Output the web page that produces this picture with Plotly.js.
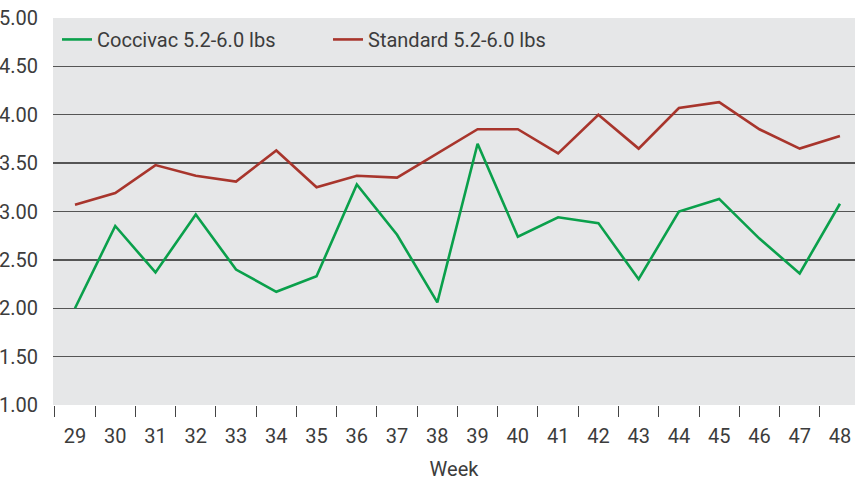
<!DOCTYPE html>
<html>
<head>
<meta charset="utf-8">
<script src="https://cdn.plot.ly/plotly-3.0.1.min.js"></script>
<style>
  html, body { margin: 0; padding: 0; background: #ffffff; }
  #chart { width: 855px; height: 483px; }
</style>
</head>
<body>
<div id="chart"></div>
<script>
const weeks = ["29","30","31","32","33","34","35","36","37","38","39","40","41","42","43","44","45","46","47","48"];
const coccivac = [2.00, 2.85, 2.37, 2.97, 2.40, 2.17, 2.33, 3.28, 2.76, 2.06, 3.70, 2.74, 2.94, 2.88, 2.30, 3.00, 3.13, 2.72, 2.36, 3.08];
const standard = [3.07, 3.19, 3.48, 3.37, 3.31, 3.63, 3.25, 3.37, 3.35, 3.60, 3.85, 3.85, 3.60, 4.00, 3.65, 4.07, 4.13, 3.85, 3.65, 3.78];
const yTicks = [1.0, 1.5, 2.0, 2.5, 3.0, 3.5, 4.0, 4.5, 5.0];
const yTickText = ["1.00", "1.50", "2.00", "2.50", "3.00", "3.50", "4.00", "4.50", "5.00"];
const seriesNames = ["Coccivac 5.2-6.0 lbs", "Standard 5.2-6.0 lbs"];

const FONT = "Roboto, 'DejaVu Sans', sans-serif";
const TEXT = "#3c3c3c";

const traces = [
  { x: weeks, y: coccivac, name: seriesNames[0], type: "scatter", mode: "lines",
    line: { color: "#0aa04b", width: 2.6 } },
  { x: weeks, y: standard, name: seriesNames[1], type: "scatter", mode: "lines",
    line: { color: "#a8352c", width: 2.6 } }
];

const layout = {
  width: 855, height: 483,
  margin: { l: 53, r: 0, t: 18, b: 78 },
  paper_bgcolor: "#ffffff",
  plot_bgcolor: "#e6e7e8",
  font: { family: FONT, color: TEXT, size: 20 },
  showlegend: true,
  legend: {
    orientation: "h", x: 0.005, y: 0.995, xanchor: "left", yanchor: "top",
    bgcolor: "rgba(0,0,0,0)", font: { family: FONT, size: 20, color: TEXT },
    itemwidth: 30, entrywidth: 226, tracegroupgap: 0
  },
  xaxis: {
    type: "category",
    range: [-0.546, 19.374],
    tickson: "boundaries",
    ticks: "outside", ticklen: 11, tickwidth: 1, tickcolor: "#444",
    showgrid: false, zeroline: false, showline: false,
    ticklabelstandoff: 17,
    tickfont: { family: FONT, size: 20, color: TEXT },
    title: { text: "Week", font: { family: FONT, size: 20, color: TEXT }, standoff: 14 }
  },
  yaxis: {
    range: [1, 5],
    tickvals: yTicks, ticktext: yTickText,
    showgrid: true, gridcolor: "#555555", gridwidth: 1.3,
    zeroline: false, showline: false, ticks: "",
    ticklabelstandoff: 14,
    tickfont: { family: FONT, size: 20, color: TEXT }
  }
};

Plotly.newPlot("chart", traces, layout, { displayModeBar: false, staticPlot: true });
</script>
</body>
</html>
